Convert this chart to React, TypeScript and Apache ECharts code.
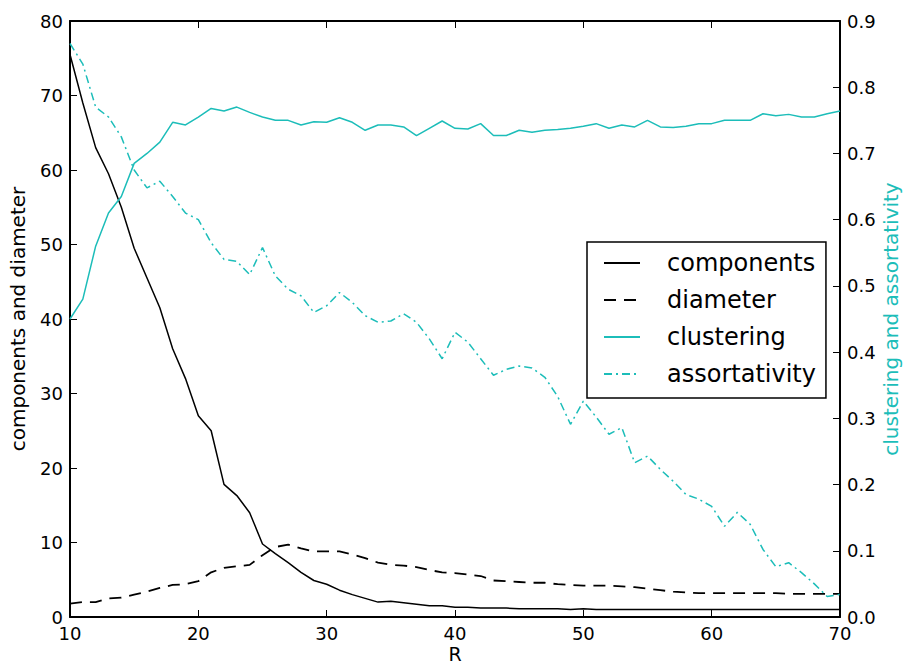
import React, { useEffect, useRef } from "react";
import * as echarts from "echarts";

const rValues = [10, 11, 12, 13, 14, 15, 16, 17, 18, 19, 20, 21, 22, 23, 24, 25, 26, 27, 28, 29, 30, 31, 32, 33, 34, 35, 36, 37, 38, 39, 40, 41, 42, 43, 44, 45, 46, 47, 48, 49, 50, 51, 52, 53, 54, 55, 56, 57, 58, 59, 60, 61, 62, 63, 64, 65, 66, 67, 68, 69, 70];

const components = [75.5, 69, 63, 59.5, 55, 49.5, 45.5, 41.5, 36, 32, 27, 25, 17.8, 16.3, 14, 9.8, 8.5, 7.3, 6, 4.9, 4.4, 3.6, 3.0, 2.5, 2.0, 2.1, 1.9, 1.7, 1.5, 1.5, 1.3, 1.3, 1.2, 1.2, 1.2, 1.1, 1.1, 1.1, 1.1, 1.0, 1.1, 1.0, 1.0, 1.0, 1.0, 1.0, 1.0, 1.0, 1.0, 1.0, 1.0, 1.0, 1.0, 1.0, 1.0, 1.0, 1.0, 1.0, 1.0, 1.0, 1.0];

const diameter = [1.8, 2.0, 2.0, 2.5, 2.6, 3.0, 3.4, 3.9, 4.3, 4.4, 4.8, 6.0, 6.6, 6.8, 7.0, 8.3, 9.4, 9.7, 9.2, 8.8, 8.8, 8.8, 8.4, 7.9, 7.3, 7.0, 6.9, 6.7, 6.3, 6.0, 5.9, 5.7, 5.5, 4.9, 4.8, 4.7, 4.6, 4.6, 4.4, 4.3, 4.2, 4.2, 4.2, 4.1, 4.0, 3.8, 3.6, 3.4, 3.3, 3.2, 3.2, 3.2, 3.2, 3.2, 3.2, 3.2, 3.1, 3.1, 3.1, 3.1, 3.1];

const clustering = [0.45, 0.48, 0.56, 0.61, 0.635, 0.685, 0.7, 0.717, 0.747, 0.743, 0.755, 0.768, 0.764, 0.77, 0.762, 0.755, 0.75, 0.75, 0.743, 0.748, 0.747, 0.754, 0.747, 0.735, 0.743, 0.743, 0.74, 0.727, 0.738, 0.749, 0.738, 0.737, 0.745, 0.727, 0.727, 0.735, 0.732, 0.735, 0.736, 0.738, 0.741, 0.745, 0.738, 0.743, 0.74, 0.75, 0.74, 0.739, 0.741, 0.745, 0.745, 0.75, 0.75, 0.75, 0.76, 0.757, 0.759, 0.755, 0.755, 0.76, 0.764];

const assortativity = [0.866, 0.835, 0.77, 0.755, 0.725, 0.675, 0.648, 0.658, 0.635, 0.61, 0.6, 0.565, 0.54, 0.537, 0.517, 0.558, 0.515, 0.495, 0.485, 0.46, 0.47, 0.49, 0.475, 0.455, 0.445, 0.447, 0.458, 0.445, 0.42, 0.39, 0.43, 0.415, 0.39, 0.365, 0.374, 0.379, 0.376, 0.362, 0.333, 0.291, 0.326, 0.302, 0.276, 0.286, 0.233, 0.243, 0.223, 0.205, 0.185, 0.178, 0.167, 0.137, 0.158, 0.14, 0.102, 0.076, 0.082, 0.067, 0.05, 0.031, 0.034];

const FONT = "DejaVu Sans";
const TEAL = "#1cbdb9";

const pairs = (ys: number[]) => rValues.map((r, i) => [r, ys[i]]);

export default function App() {
  const ref = useRef<HTMLDivElement>(null);
  useEffect(() => {
    if (!ref.current) return;
    const chart = echarts.init(ref.current, undefined, { renderer: "svg" });
    const axisLine = { show: true, onZero: false, lineStyle: { color: "#000", width: 2 } };
    const tick = { show: true, inside: true, length: 7, lineStyle: { color: "#000", width: 1 } };
    chart.setOption({
      animation: false,
      backgroundColor: "#fff",
      grid: { left: 70, right: 67, top: 21, bottom: 49, containLabel: false, outerBoundsMode: "none" },
      legend: {
        orient: "vertical",
        left: 587,
        top: 242,
        padding: [9, 10, 12, 16],
        itemWidth: 36,
        itemHeight: 24,
        itemGap: 13,
        borderColor: "#000",
        borderWidth: 1.5,
        borderRadius: 0,
        backgroundColor: "#fff",
        itemStyle: { opacity: 0 },
        textStyle: { fontFamily: FONT, fontSize: 24, color: "#000", padding: [0, 0, 0, 22] },
        data: ["components", "diameter", "clustering", "assortativity"],
      },
      xAxis: [
        {
          type: "value",
          min: 10,
          max: 70,
          interval: 10,
          position: "bottom",
          name: "R",
          nameLocation: "middle",
          nameGap: 27,
          nameMoveOverlap: false,
          nameTextStyle: { fontFamily: FONT, fontSize: 19, color: "#000" },
          axisLine,
          axisTick: tick,
          splitLine: { show: false },
          axisLabel: { fontFamily: FONT, fontSize: 18, color: "#000", margin: 7 },
        },
        {
          type: "value",
          min: 10,
          max: 70,
          interval: 10,
          position: "top",
          axisLine,
          axisTick: tick,
          splitLine: { show: false },
          axisLabel: { show: false },
        },
      ],
      yAxis: [
        {
          type: "value",
          min: 0,
          max: 80,
          interval: 10,
          position: "left",
          name: "components and diameter",
          nameLocation: "middle",
          nameGap: 42,
          nameMoveOverlap: false,
          nameTextStyle: { fontFamily: FONT, fontSize: 20, color: "#000" },
          axisLine,
          axisTick: tick,
          splitLine: { show: false },
          axisLabel: { fontFamily: FONT, fontSize: 18, color: "#000", margin: 7 },
        },
        {
          type: "value",
          min: 0,
          max: 0.9,
          interval: 0.1,
          position: "right",
          name: "clustering and assortativity",
          nameLocation: "middle",
          nameGap: 41,
          nameMoveOverlap: false,
          nameTextStyle: { fontFamily: FONT, fontSize: 20, color: TEAL },
          axisLine,
          axisTick: tick,
          splitLine: { show: false },
          axisLabel: {
            fontFamily: FONT,
            fontSize: 18,
            color: "#000",
            margin: 7,
            formatter: (v: number) => v.toFixed(1),
          },
        },
      ],
      series: [
        {
          name: "components",
          type: "line",
          xAxisIndex: 0,
          yAxisIndex: 0,
          data: pairs(components),
          symbol: "none",
          color: "#000",
          lineStyle: { color: "#000", width: 1.5 },
        },
        {
          name: "diameter",
          type: "line",
          xAxisIndex: 0,
          yAxisIndex: 0,
          data: pairs(diameter),
          symbol: "none",
          color: "#000",
          lineStyle: { color: "#000", width: 1.8, type: [12, 8] },
        },
        {
          name: "clustering",
          type: "line",
          xAxisIndex: 0,
          yAxisIndex: 1,
          data: pairs(clustering),
          symbol: "none",
          color: TEAL,
          lineStyle: { color: TEAL, width: 1.5 },
        },
        {
          name: "assortativity",
          type: "line",
          xAxisIndex: 0,
          yAxisIndex: 1,
          data: pairs(assortativity),
          symbol: "none",
          color: TEAL,
          lineStyle: { color: TEAL, width: 1.5, type: [8, 4, 2, 4] },
        },
      ],
    });
    return () => chart.dispose();
  }, []);
  return (
    <div
      ref={ref}
      style={{ position: "fixed", left: 0, top: 0, width: 907, height: 666, background: "#fff" }}
    />
  );
}
